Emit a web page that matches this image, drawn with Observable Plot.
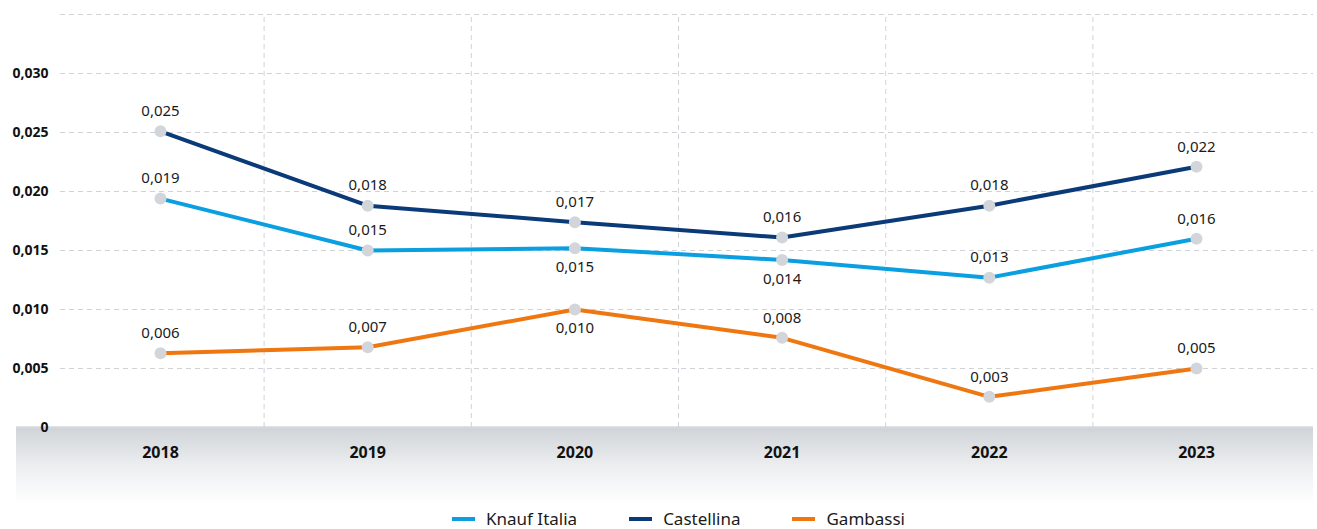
<!DOCTYPE html>
<html>
<head>
<meta charset="utf-8">
<script src="https://cdn.jsdelivr.net/npm/d3@7"></script>
<script src="https://cdn.jsdelivr.net/npm/@observablehq/plot@0.6"></script>
<style>
  html, body { margin: 0; padding: 0; background: #fff; }
  body { width: 1317px; height: 529px; position: relative; overflow: hidden; font-family: "Noto Sans", sans-serif; }
  #band { position: absolute; left: 16px; top: 426px; width: 1297px; height: 78px;
          background: linear-gradient(to bottom, #e4e6e9 0px, #d0d4d8 2px, #eceef0 40px, #ffffff 78px); }
  #chart { position: absolute; left: 0; top: 0; }
  #legend { position: absolute; left: 20px; top: 507px; width: 1317px; display: flex; justify-content: center;
            font-size: 17px; color: #1a1a1a; }
  .item { display: flex; align-items: center; margin: 0 26px; }
  .sw { width: 23px; height: 4px; margin-right: 11px; }
</style>
</head>
<body>
<div id="band"></div>
<div id="chart"></div>
<div id="legend"></div>
<script>
const years = [2018, 2019, 2020, 2021, 2022, 2023];
const seriesNames = ["Knauf Italia", "Castellina", "Gambassi"];
const knaufItalia = [0.0194, 0.0150, 0.0152, 0.0142, 0.0127, 0.0160];
const castellina = [0.0251, 0.0188, 0.0174, 0.0161, 0.0188, 0.0221];
const gambassi   = [0.0063, 0.0068, 0.0100, 0.0076, 0.0026, 0.0050];
const knaufItaliaLabels = ["0,019", "0,015", "0,015", "0,014", "0,013", "0,016"];
const castellinaLabels  = ["0,025", "0,018", "0,017", "0,016", "0,018", "0,022"];
const gambassiLabels    = ["0,006", "0,007", "0,010", "0,008", "0,003", "0,005"];
const yTicks = [0, 0.005, 0.010, 0.015, 0.020, 0.025, 0.030];
const yGrid = [0.005, 0.010, 0.015, 0.020, 0.025, 0.030, 0.035];
const colors = ["#0a9fe0", "#0b3a78", "#ef7711"];
// labels drawn beneath their point (series, year)
const labelsBelow = [["Knauf Italia", 2020], ["Knauf Italia", 2021], ["Gambassi", 2020]];

const seriesValues = [knaufItalia, castellina, gambassi];
const seriesLabels = [knaufItaliaLabels, castellinaLabels, gambassiLabels];
const data = [];
seriesNames.forEach((s, i) => years.forEach((yr, j) =>
  data.push({series: s, year: yr, value: seriesValues[i][j], label: seriesLabels[i][j]})));
const isBelow = d => labelsBelow.some(([s, y]) => s === d.series && y === d.year);
const fmt = v => v === 0 ? "0" : v.toFixed(3).replace(".", ",");

const chart = Plot.plot({
  width: 1317,
  height: 505,
  marginLeft: 60,
  marginRight: 4,
  marginTop: 14,
  marginBottom: 78,
  style: {background: "transparent", fontFamily: "'Noto Sans', sans-serif", overflow: "visible"},
  x: {type: "linear", domain: [2017.5, 2023.5], range: [56.4, 1299.6]},
  y: {domain: [0, 0.035]},
  color: {domain: seriesNames, range: colors},
  marks: [
    Plot.ruleY(yGrid, {stroke: "#cfd3d8", strokeDasharray: "5,4", strokeWidth: 1}),
    Plot.ruleX(years.slice(0, -1).map(y => y + 0.5), {y1: 0, y2: 0.035, stroke: "#cfd3d8", strokeDasharray: "5,4", strokeWidth: 1}),
    Plot.axisY(yTicks, {tickSize: 0, tickPadding: 12, tickFormat: fmt, fontSize: 14, fontWeight: "bold", fill: "#111", label: null}),
    Plot.axisX(years, {tickSize: 0, tickPadding: 19, tickFormat: d => String(d), fontSize: 16, fontWeight: "bold", fill: "#111", label: null}),
    Plot.line(data, {x: "year", y: "value", z: "series", stroke: "series", strokeWidth: 4, strokeLinejoin: "round"}),
    Plot.dot(data, {x: "year", y: "value", r: 6, fill: "#d2d6db", stroke: null}),
    Plot.text(data.filter(d => !isBelow(d)), {x: "year", y: "value", text: "label", dy: -20, fontSize: 15, fill: "#1a1a1a"}),
    Plot.text(data.filter(isBelow), {x: "year", y: "value", text: "label", dy: 19, fontSize: 15, fill: "#1a1a1a"})
  ]
});
document.getElementById("chart").appendChild(chart);

const legend = document.getElementById("legend");
seriesNames.forEach((s, i) => {
  const item = document.createElement("div");
  item.className = "item";
  const sw = document.createElement("span");
  sw.className = "sw";
  sw.style.background = colors[i];
  const t = document.createElement("span");
  t.textContent = s;
  item.appendChild(sw);
  item.appendChild(t);
  legend.appendChild(item);
});
</script>
</body>
</html>
